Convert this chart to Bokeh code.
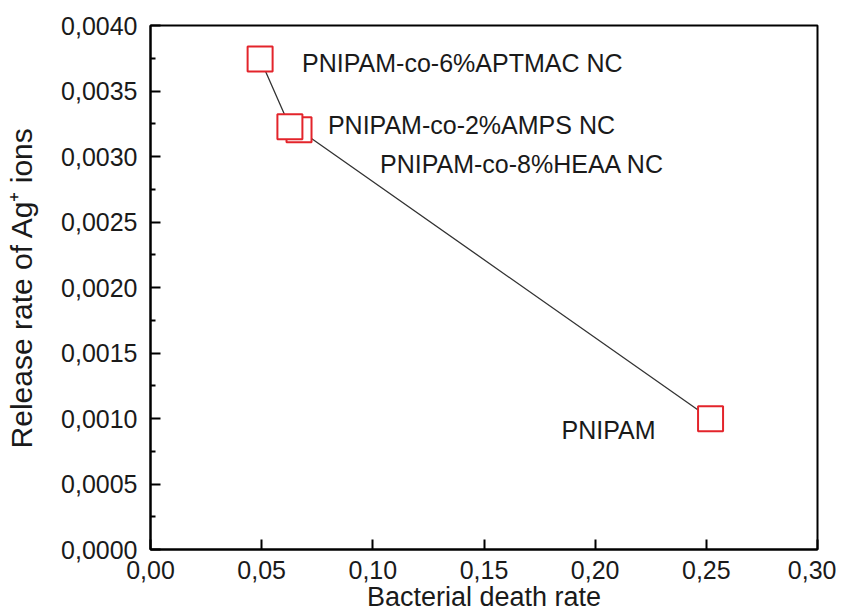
from bokeh.plotting import figure
from bokeh.models import ColumnDataSource, FixedTicker, CustomJSTickFormatter, Range1d
from bokeh.core.properties import value
from bokeh.embed import file_html
from bokeh.resources import INLINE

# ---- data ----
names = ["PNIPAM-co-6%APTMAC NC", "PNIPAM-co-2%AMPS NC", "PNIPAM-co-8%HEAA NC", "PNIPAM"]
death_rate = [0.0493, 0.0627, 0.0668, 0.2519]
release_rate = [0.003745, 0.003227, 0.003204, 0.000998]

x_ticks = [0.00, 0.05, 0.10, 0.15, 0.20, 0.25, 0.30]
y_ticks = [0.0000, 0.0005, 0.0010, 0.0015, 0.0020, 0.0025, 0.0030, 0.0035, 0.0040]
y_minor = [0.00025, 0.00075, 0.00125, 0.00175, 0.00225, 0.00275, 0.00325, 0.00375]

x_title = "Bacterial death rate"
y_title = "Release rate of Ag\u207a ions"

# label placement (pixels, styling only)
label_dx = [42, 38, 81, -55]
label_dy = [4, -2, 34, 11]
label_align = ["left", "left", "left", "right"]

FONT = "Liberation Sans"
RED = "#e3242b"
W, H = 836, 614

src = ColumnDataSource(dict(x=death_rate, y=release_rate, name=names,
                            dx=label_dx, dy=label_dy, align=label_align))
# draw markers in reverse order so the AMPS square sits on top of HEAA
src_m = ColumnDataSource(dict(x=death_rate[::-1], y=release_rate[::-1]))

p = figure(width=W, height=H, output_backend="svg", toolbar_location=None,
           x_range=Range1d(x_ticks[0], x_ticks[-1]), y_range=Range1d(y_ticks[0], y_ticks[-1]),
           min_border_left=150, min_border_right=W - 817, min_border_top=25,
           min_border_bottom=H - 550)

p.background_fill_color = "white"
p.border_fill_color = "white"
p.outline_line_color = "black"
p.outline_line_width = 2
p.grid.visible = False

p.line("x", "y", source=src, line_color="#333333", line_width=1.3)
p.scatter("x", "y", source=src_m, marker="square", size=25, fill_color="white",
          line_color=RED, line_width=2)

p.text("x", "y", text="name", source=src, x_offset="dx", y_offset="dy",
       text_align="align", text_baseline="middle", text_font=value(FONT),
       text_font_size="25px", text_color="#1a1a1a")

for ax in (p.xaxis[0], p.yaxis[0]):
    ax.axis_line_width = 2
    ax.axis_line_color = "black"
    ax.major_tick_in = 10
    ax.major_tick_out = 0
    ax.minor_tick_in = 5
    ax.minor_tick_out = 0
    ax.major_tick_line_width = 2
    ax.minor_tick_line_width = 2
    ax.major_label_text_font = FONT
    ax.major_label_text_font_size = "25px"
    ax.major_label_text_color = "#1a1a1a"
    ax.axis_label_text_font = FONT
    ax.axis_label_text_font_style = "normal"
    ax.axis_label_text_color = "#1a1a1a"

p.xaxis[0].ticker = FixedTicker(ticks=x_ticks)
p.xaxis[0].formatter = CustomJSTickFormatter(code="return tick.toFixed(2).replace('.', ',');")
p.xaxis[0].major_label_standoff = 11
p.xaxis[0].axis_label = x_title
p.xaxis[0].axis_label_text_font_size = "27px"
p.xaxis[0].axis_label_standoff = 0

p.yaxis[0].ticker = FixedTicker(ticks=y_ticks, minor_ticks=y_minor)
p.yaxis[0].formatter = CustomJSTickFormatter(code="return tick.toFixed(4).replace('.', ',');")
p.yaxis[0].major_label_standoff = 13
p.yaxis[0].axis_label = y_title
p.yaxis[0].axis_label_text_font_size = "30px"
p.yaxis[0].axis_label_standoff = 20

open("out.html", "w").write(file_html(p, INLINE))
